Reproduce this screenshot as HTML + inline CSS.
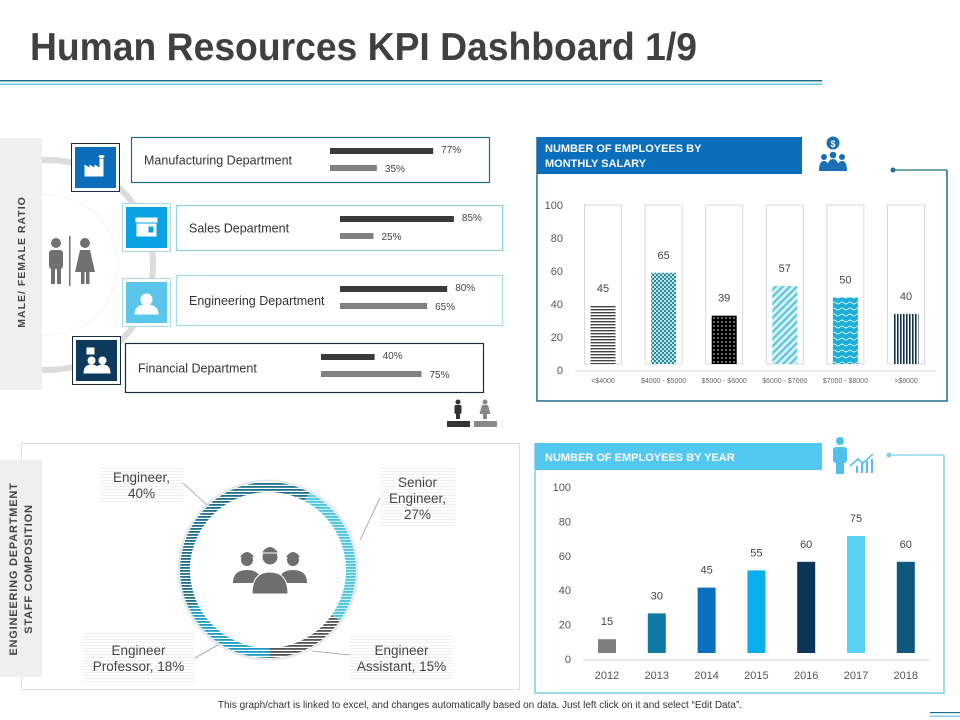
<!DOCTYPE html>
<html><head><meta charset="utf-8"><title>Human Resources KPI Dashboard</title>
<style>
html,body{margin:0;padding:0;background:#fff;}
svg{display:block;font-family:"Liberation Sans",Arial,sans-serif;}
</style></head>
<body>
<svg id="dash" width="960" height="720" viewBox="0 0 960 720" xmlns="http://www.w3.org/2000/svg">
<defs>
  <pattern id="pHor" width="4" height="3" patternUnits="userSpaceOnUse"><rect width="4" height="3" fill="#fff"/><rect width="4" height="1.4" fill="#444"/></pattern>
  <pattern id="pCheck" width="4" height="4" patternUnits="userSpaceOnUse"><rect width="4" height="4" fill="#2a8aa0"/><rect width="2" height="2" fill="#bfe3ea"/><rect x="2" y="2" width="2" height="2" fill="#bfe3ea"/></pattern>
  <pattern id="pDots" width="4" height="4" patternUnits="userSpaceOnUse"><rect width="4" height="4" fill="#000"/><circle cx="2" cy="2" r="0.7" fill="#fff"/></pattern>
  <pattern id="pDiag" width="5" height="5" patternUnits="userSpaceOnUse" patternTransform="rotate(45)"><rect width="5" height="5" fill="#d8f1f6"/><rect width="2.2" height="5" fill="#5cc4dc"/></pattern>
  <pattern id="pWave" width="8" height="6" patternUnits="userSpaceOnUse"><rect width="8" height="6" fill="#1cb0d8"/><path d="M0 3 Q2 1 4 3 T8 3" stroke="#fff" stroke-width="0.8" fill="none"/></pattern>
  <pattern id="pVert" width="3" height="4" patternUnits="userSpaceOnUse"><rect width="3" height="4" fill="#fff"/><rect width="1.6" height="4" fill="#0f3550"/></pattern>
  <pattern id="dEng" width="4" height="3" patternUnits="userSpaceOnUse"><rect width="4" height="3" fill="#fff"/><rect width="4" height="1.8" fill="#1d6f8c"/></pattern>
  <pattern id="dSen" width="4" height="3" patternUnits="userSpaceOnUse"><rect width="4" height="3" fill="#c8eef6"/><rect width="4" height="1.8" fill="#4dc3de"/></pattern>
  <pattern id="dAsst" width="4" height="3" patternUnits="userSpaceOnUse"><rect width="4" height="3" fill="#fff"/><rect width="4" height="1.8" fill="#555"/></pattern>
  <pattern id="dProf" width="4" height="3" patternUnits="userSpaceOnUse"><rect width="4" height="3" fill="#fff"/><rect width="4" height="1.8" fill="#1a9cc4"/></pattern>
  <pattern id="lblBg" width="4" height="3" patternUnits="userSpaceOnUse"><rect width="4" height="3" fill="#fff"/><rect width="4" height="1" fill="#f0f0f0"/></pattern>
</defs>

<!-- Title -->
<text x="30" y="60" font-size="39" font-weight="bold" fill="#404040" textLength="667" lengthAdjust="spacingAndGlyphs">Human Resources KPI Dashboard 1/9</text>
<rect x="0" y="80" width="822" height="1.5" fill="#1f6f8a"/>
<rect x="0" y="83.5" width="822" height="1.5" fill="#5cc8e0"/>

<!-- ===== Male/female ratio section ===== -->
<g>
  <circle cx="48" cy="265" r="105" fill="none" stroke="#dcdcdc" stroke-width="6"/>
  <circle cx="48" cy="265" r="70" fill="none" stroke="#f3f3f3" stroke-width="1"/>
  <rect x="0" y="138" width="42" height="252" fill="#efefef"/>
  <text transform="translate(25,262) rotate(-90)" text-anchor="middle" font-size="10.5" font-weight="bold" fill="#444" letter-spacing="1">MALE/ FEMALE RATIO</text>
  <g fill="#707070">
    <circle cx="56" cy="243" r="5"/><rect x="49" y="250" width="14" height="19" rx="3"/><rect x="51" y="266" width="4" height="18"/><rect x="57" y="266" width="4" height="18"/>
    <rect x="69" y="236" width="1.5" height="50"/>
    <circle cx="85" cy="243" r="5"/><path d="M80 250 h10 l5 22 h-20 z"/><rect x="81" y="270" width="3.5" height="14"/><rect x="86" y="270" width="3.5" height="14"/>
  </g>
</g>

<g id="deptGroup"></g>

<g>
  <g fill="#333"><circle cx="458" cy="402" r="2.5"/><rect x="454.5" y="405" width="7" height="9" rx="1.5"/><rect x="456" y="413" width="4" height="6"/></g>
  <rect x="447" y="421" width="23" height="6" fill="#333"/>
  <g fill="#888"><circle cx="485" cy="402" r="2.5"/><path d="M482 405 h6 l2.5 9 h-11 z"/><rect x="483" y="413" width="4" height="6"/></g>
  <rect x="474" y="421" width="23" height="6" fill="#888"/>
</g>

<!-- ===== Salary chart ===== -->
<g>
  <path d="M947 170 V401 H537 V137" fill="none" stroke="#1f6f8f" stroke-width="1.5"/>
  <line x1="893" y1="170" x2="947" y2="170" stroke="#1f6f8f" stroke-width="1.2"/>
  <circle cx="893" cy="170" r="2.5" fill="#1f6f8f"/>
  <rect x="537" y="137" width="265" height="37" fill="#0a6ebd"/>
  <text x="545" y="152" font-size="11" font-weight="bold" fill="#fff"><tspan x="545">NUMBER OF EMPLOYEES  BY</tspan><tspan x="545" dy="15">MONTHLY SALARY</tspan></text>
  <g fill="#1a6fb5">
    <circle cx="833" cy="143" r="6.5"/><text x="833" y="147" font-size="9" font-weight="bold" fill="#fff" text-anchor="middle">$</text>
    <circle cx="824" cy="157" r="3"/><circle cx="833" cy="155" r="3.3"/><circle cx="842" cy="157" r="3"/>
    <path d="M819 171 q0 -10 5 -10 q5 0 5 10z M827 171 q0 -12 6 -12 q6 0 6 12z M837 171 q0 -10 5 -10 q5 0 5 10z"/>
  </g>
  <g id="salaryChart"></g>
</g>

<!-- ===== Staff composition donut ===== -->
<g>
  <rect x="21.5" y="443.5" width="498" height="246" fill="none" stroke="#dcdcdc" stroke-width="1"/>
  <rect x="0" y="460" width="42" height="217" fill="#efefef"/>
  <text transform="translate(17,569) rotate(-90)" text-anchor="middle" font-size="11" font-weight="bold" fill="#444" letter-spacing="0.8"><tspan x="0">ENGINEERING DEPARTMENT</tspan><tspan x="0" dy="15">STAFF COMPOSITION</tspan></text>
  <g id="donutChart"></g>
  <g fill="#6e6e6e">
    <circle cx="247" cy="560" r="6"/><path d="M240 557 q7 -10 14 0z"/><path d="M233 583 q0 -13 14 -13 q14 0 14 13z"/>
    <circle cx="293" cy="560" r="6"/><path d="M286 557 q7 -10 14 0z"/><path d="M279 583 q0 -13 14 -13 q14 0 14 13z"/>
    <circle cx="270" cy="557" r="8" stroke="#fff" stroke-width="1"/><path d="M261 553 q9 -13 18 0z" stroke="#fff" stroke-width="1"/><path d="M252 594 q0 -22 18 -22 q18 0 18 22z" stroke="#fff" stroke-width="1"/>
  </g>
</g>

<!-- ===== Year chart ===== -->
<g>
  <path d="M944 455 V693 H535 V443" fill="none" stroke="#7fcce6" stroke-width="1.5"/>
  <line x1="889" y1="455" x2="944" y2="455" stroke="#7fcce6" stroke-width="1.2"/>
  <circle cx="889" cy="455" r="2.5" fill="#7fcce6"/>
  <rect x="535" y="443" width="287" height="27" fill="#52c8f0"/>
  <text x="545" y="461" font-size="11" font-weight="bold" fill="#fff">NUMBER OF EMPLOYEES BY YEAR</text>
  <g fill="#4fc0ea">
    <circle cx="840" cy="441" r="4"/><rect x="833" y="447" width="14" height="16" rx="3"/><rect x="836" y="460" width="8" height="14"/>
    <rect x="856" y="466" width="2" height="7"/><rect x="861" y="463" width="2" height="10"/><rect x="866" y="461" width="2" height="12"/><rect x="871" y="459" width="2" height="14"/>
    <path d="M850 466 l8 -7 l5 4 l10 -9" fill="none" stroke="#4fc0ea" stroke-width="1.5"/>
  </g>
  <g id="yearChart"></g>
</g>

<text x="480" y="708" font-size="10" fill="#333" text-anchor="middle">This graph/chart is linked to excel, and changes automatically based on data.  Just left click on it and select “Edit Data”.</text>
<rect x="930" y="712" width="30" height="1.2" fill="#1f6f8a"/>
<rect x="930" y="715.5" width="30" height="1.2" fill="#5cc8e0"/>
</svg>

<script>
const NS = 'http://www.w3.org/2000/svg';
function mk(parent, tag, attrs, txt) {
  const e = document.createElementNS(NS, tag);
  for (const k in attrs) e.setAttribute(k, attrs[k]);
  if (txt !== undefined) e.textContent = txt;
  parent.appendChild(e);
  return e;
}

/* ---------- Department male/female data ---------- */
const deptNames = ['Manufacturing  Department', 'Sales Department', 'Engineering  Department', 'Financial Department'];
const malePct = [77, 85, 80, 40];
const femalePct = [35, 25, 65, 75];

const deptLayout = [
  {ix:71, iy:143, col:'#0a6ebd', cx:131, cy:137, cw:358, ch:45, border:'#1f6f8f', bx:330},
  {ix:122, iy:203, col:'#0aa2e3', cx:176, cy:205, cw:326, ch:45, border:'#8fd0e2', bx:340},
  {ix:122, iy:278, col:'#5bc5ec', cx:176, cy:275, cw:326, ch:50, border:'#a8dcea', bx:340},
  {ix:72, iy:336, col:'#0d3a5c', cx:125, cy:343, cw:358, ch:49, border:'#1a2d40', bx:321}
];
const pctScale = v => v * 1.34;
const dg = document.getElementById('deptGroup');
deptNames.forEach((name, i) => {
  const L = deptLayout[i];
  const g = mk(dg, 'g', {});
  
  
  const ob = mk(g, 'rect', {x:L.ix+0.5, y:L.iy+0.5, width:48, height:48, fill:'#fff', stroke: i===0||i===3 ? '#1a2d40' : '#a8dcea'});
  
  
  const ib = mk(g, 'rect', {x:L.ix+4, y:L.iy+4, width:41, height:41, fill:L.col});
  
  
  const gx = L.ix+24.5, gy = L.iy+24.5;
  if (i===0) { mk(g,'path',{d:`M${gx-11} ${gy+9} v-12 l5 3 v-3 l5 3 v-3 l5 3 v-9 h4 v18 z`, fill:'#fff'}); mk(g,'ellipse',{cx:gx+6,cy:gy-11,rx:3,ry:1.5,fill:'#fff'}); }
  if (i===1) { mk(g,'rect',{x:gx-11,y:gy-10,width:22,height:5,fill:'#fff'}); mk(g,'rect',{x:gx-10,y:gy-4,width:20,height:13,fill:'#fff'}); mk(g,'rect',{x:gx+2,y:gy-1,width:5,height:6,fill:L.col}); }
  if (i===2) { mk(g,'circle',{cx:gx,cy:gy-3,r:6,fill:'#fff'}); mk(g,'path',{d:`M${gx-12} ${gy+12} q0 -10 12 -10 q12 0 12 10z`,fill:'#fff'}); }
  if (i===3) { mk(g,'rect',{x:gx-10,y:gy-13,width:8,height:7,fill:'#fff'}); mk(g,'circle',{cx:gx-5,cy:gy,r:4,fill:'#fff'}); mk(g,'circle',{cx:gx+6,cy:gy,r:4,fill:'#fff'}); mk(g,'path',{d:`M${gx-13} ${gy+13} q0 -9 8 -9 q8 0 8 9z M${gx-2} ${gy+13} q0 -9 8 -9 q8 0 8 9z`,fill:'#fff'}); }
  const card = mk(g, 'rect', {x:L.cx+0.5, y:L.cy+0.5, width:L.cw, height:L.ch, fill:'#fff', stroke:L.border, 'stroke-width':1.2});
  
  
  const t = mk(g, 'text', {x:L.cx+13, y:L.cy+L.ch/2+5, 'font-size':12.5, fill:'#333'}, name);
  
  
  const my = L.cy + 11, fy = L.cy + 28;
  const mb = mk(g, 'rect', {x:L.bx, y:my, width:pctScale(malePct[i]), height:6, fill:'#3a3a3a'});
  
  
  const ml = mk(g, 'text', {x:L.bx+pctScale(malePct[i])+8, y:my+5, 'font-size':10, fill:'#444'}, malePct[i]+'%');
  
  
  const fb = mk(g, 'rect', {x:L.bx, y:fy, width:pctScale(femalePct[i]), height:6, fill:'#808080'});
  
  
  const fl = mk(g, 'text', {x:L.bx+pctScale(femalePct[i])+8, y:fy+7, 'font-size':10, fill:'#444'}, femalePct[i]+'%');
  
  
});

/* ---------- Salary chart ---------- */
const salaryCats = ['<$4000', '$4000 - $5000', '$5000 - $6000', '$6000 - $7000', '$7000 - $8000', '>$8000'];
const salaryVals = [45, 65, 39, 57, 50, 40];
const salaryTicks = [0, 20, 40, 60, 80, 100];
const salaryFills = ['url(#pHor)', 'url(#pCheck)', 'url(#pDots)', 'url(#pDiag)', 'url(#pWave)', 'url(#pVert)'];
const sY = v => 370 - v * 1.65;
const sX = i => 603 + i * 60.6;
const sc = document.getElementById('salaryChart');
salaryTicks.forEach(t => {
  const e = mk(sc, 'text', {x:563, y:sY(t)+4, 'font-size':11, fill:'#555', 'text-anchor':'end'}, t);
  
  
});
const sax = mk(sc, 'line', {x1:575, y1:371, x2:936, y2:371, stroke:'#d9d9d9'});


salaryCats.forEach((c, i) => {
  const x = sX(i);
  const bg = mk(sc, 'rect', {x:x-18.5, y:sY(100), width:37, height:364-sY(100), fill:'#fff', stroke:'#d9d9d9'});
  
  
  const top = sY(salaryVals[i]) + 10;
  const b = mk(sc, 'rect', {x:x-12.5, y:top, width:25, height:364-top, fill:salaryFills[i]});
  
  
  const vl = mk(sc, 'text', {x:x, y:top-14, 'font-size':11, fill:'#444', 'text-anchor':'middle'}, salaryVals[i]);
  
  
  const cl = mk(sc, 'text', {x:x, y:383, 'font-size':7, fill:'#666', 'text-anchor':'middle'}, c);
  
  
});

/* ---------- Year chart ---------- */
const years = ['2012', '2013', '2014', '2015', '2016', '2017', '2018'];
const yearVals = [15, 30, 45, 55, 60, 75, 60];
const yearTicks = [0, 20, 40, 60, 80, 100];
const yearColors = ['#7f7f7f', '#0e7aa6', '#0b6fc0', '#0aaeea', '#0b3558', '#5ad0f5', '#0d587c'];
const yY = v => 659 - v * 1.72;
const yX = i => 607 + i * 49.8;
const yc = document.getElementById('yearChart');
yearTicks.forEach(t => {
  const e = mk(yc, 'text', {x:571, y:yY(t)+4, 'font-size':11, fill:'#555', 'text-anchor':'end'}, t);
  
  
});
const yax = mk(yc, 'line', {x1:583, y1:660, x2:930, y2:660, stroke:'#d9d9d9'});


years.forEach((yr, i) => {
  const x = yX(i);
  const top = yY(yearVals[i]) + 6;
  const b = mk(yc, 'rect', {x:x-9, y:top, width:18, height:653-top, fill:yearColors[i]});
  
  
  const vl = mk(yc, 'text', {x:x, y:top-14, 'font-size':11, fill:'#444', 'text-anchor':'middle'}, yearVals[i]);
  
  
  const cl = mk(yc, 'text', {x:x, y:679, 'font-size':11, fill:'#555', 'text-anchor':'middle'}, yr);
  
  
});

/* ---------- Donut ---------- */
const roles = ['Senior Engineer', 'Engineer Assistant', 'Engineer Professor', 'Engineer'];
const roleShares = [27, 15, 18, 40];
const roleFills = ['url(#dSen)', 'url(#dAsst)', 'url(#dProf)', 'url(#dEng)'];
const roleLabelLines = [['Senior', 'Engineer,', '27%'], ['Engineer', 'Assistant, 15%'], ['Engineer', 'Professor, 18%'], ['Engineer,', '40%']];
const roleLabelPos = [
  {x:380, y:468, w:75, h:60, lx:360, ly:540, ex:380, ey:498},
  {x:350, y:636, w:103, h:44, lx:312, ly:651, ex:350, ey:655},
  {x:82, y:632, w:113, h:52, lx:218, ly:645, ex:195, ey:658},
  {x:100, y:466, w:83, h:38, lx:207, ly:505, ex:183, ey:483}
];
const DCX = 268, DCY = 570, RO = 88, RI = 78, START = 28;
const dc = document.getElementById('donutChart');
mk(dc, 'circle', {cx:DCX, cy:DCY, r:RO+1.5, fill:'none', stroke:'#e6e6e6', 'stroke-width':2});
function pt(r, deg) { const a = (deg - 90) * Math.PI / 180; return [DCX + r * Math.cos(a), DCY + r * Math.sin(a)]; }
const total = roleShares.reduce((a, b) => a + b, 0);
let ang = START;
roles.forEach((r, i) => {
  const sweep = roleShares[i] / total * 360;
  const a0 = ang, a1 = ang + sweep;
  const [x0, y0] = pt(RO, a0), [x1, y1] = pt(RO, a1), [x2, y2] = pt(RI, a1), [x3, y3] = pt(RI, a0);
  const lg = sweep > 180 ? 1 : 0;
  const seg = mk(dc, 'path', {d:`M${x0} ${y0} A${RO} ${RO} 0 ${lg} 1 ${x1} ${y1} L${x2} ${y2} A${RI} ${RI} 0 ${lg} 0 ${x3} ${y3} Z`, fill:roleFills[i]});
  
  
  ang = a1;
  const P = roleLabelPos[i];
  const box = mk(dc, 'rect', {x:P.x, y:P.y, width:P.w, height:P.h, fill:'url(#lblBg)'});
  
  
  const ln = mk(dc, 'line', {x1:P.lx, y1:P.ly, x2:P.ex, y2:P.ey, stroke:'#999', 'stroke-width':0.8});
  
  
  const lines = roleLabelLines[i];
  const t = mk(dc, 'text', {x:P.x+P.w/2, y:P.y + P.h/2 - (lines.length-1)*8 + 5, 'font-size':13.5, fill:'#444', 'text-anchor':'middle'});
  
  
  lines.forEach((s, k) => mk(t, 'tspan', {x:P.x+P.w/2, dy:k ? 16 : 0}, s));
});
</script>
</body></html>
